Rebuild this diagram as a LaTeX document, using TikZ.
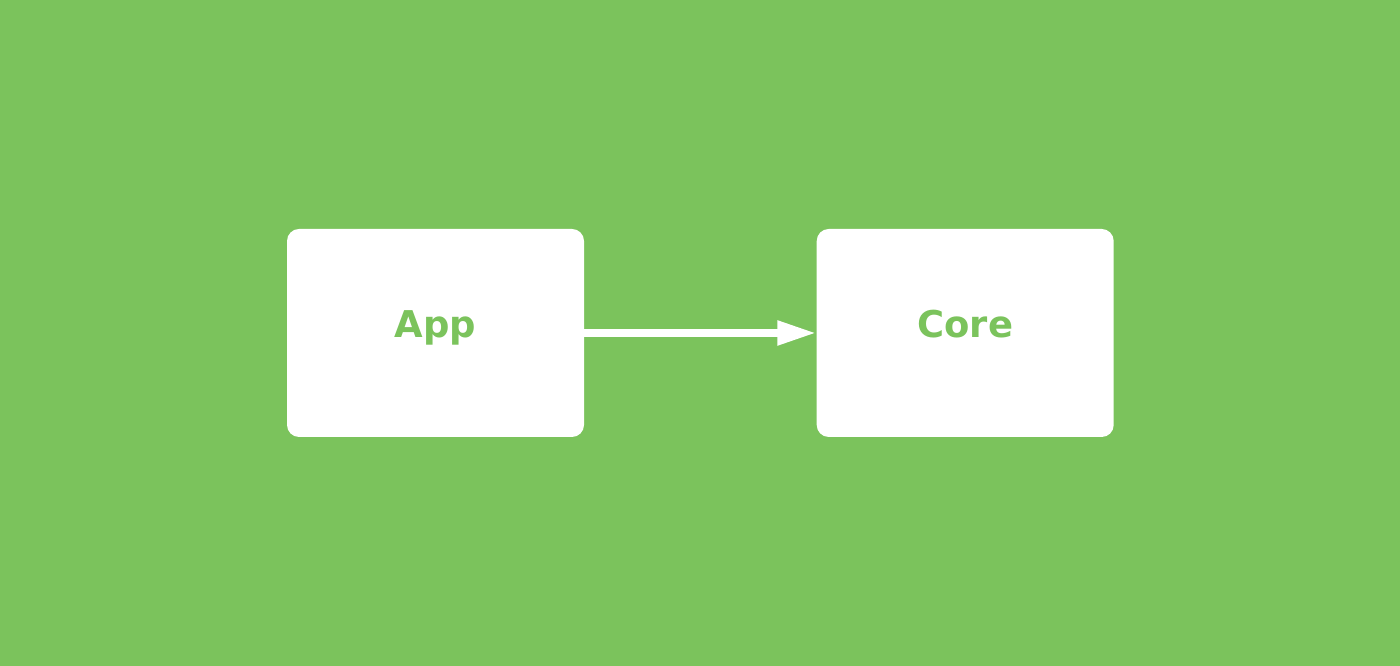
\documentclass[tikz,border=0pt]{standalone}
\usepackage{fontspec}
\setmainfont{DejaVu Sans}
\usetikzlibrary{positioning}
\usetikzlibrary{arrows.meta}
\definecolor{leaf}{RGB}{123,195,92}
\tikzstyle{every node}=[font=\fontsize{21}{25}\selectfont\bfseries]

\begin{document}
\begin{tikzpicture}
		\tikzstyle{box} = [fill=white, rounded corners=0.24cm, minimum width=5.94cm, minimum height=4.16cm, text=leaf, inner sep=0pt, text height=0.2cm, text depth=0pt]
		\tikzstyle{arrow} = [white, line width=0.16cm, -{Triangle[length=0.78cm, width=0.46cm]}]
		
		\fill[leaf] (0,0) rectangle (28,13.32);
		\useasboundingbox (0,0) rectangle (28,13.32);
		
		\node[box] (app) at (8.71,6.66) {App};
		\node[box, right=4.64cm of app] (core) {Core};
		
		\draw[arrow] (app) -- (core);
		
	\end{tikzpicture}
\end{document}
